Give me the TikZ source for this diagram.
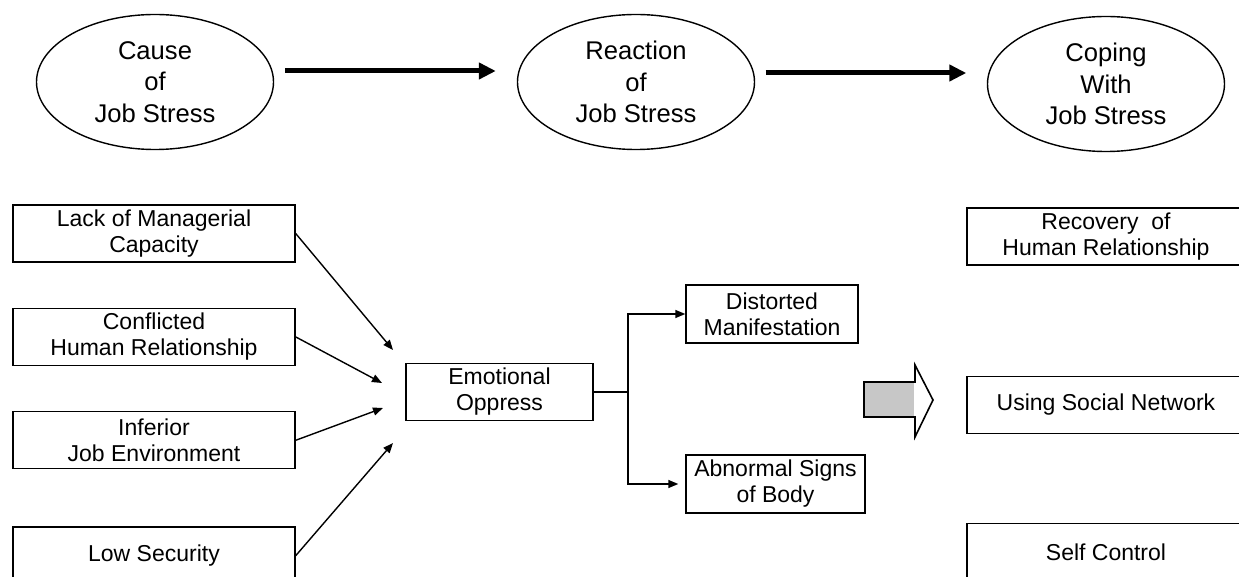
\documentclass[tikz,border=0pt]{standalone}
\usepackage{fontspec}
\setmainfont{Liberation Sans}
\usetikzlibrary{positioning,arrows.meta,shapes.geometric}

\begin{document}
\begin{tikzpicture}[
      x=0.5pt, y=-0.5pt,
      node distance=22.5pt and 8mm,
      stage/.style={draw, ellipse, line width=0.7pt, inner sep=0pt, minimum width=118.5pt, minimum height=67.5pt, align=center, font=\fontsize{12.8}{15.8}\selectfont},
      box/.style={draw, line width=0.7pt, align=center, inner sep=0pt, minimum height=28.5pt, font=\fontsize{11.5}{13}\selectfont},
      flow/.style={-{Triangle[length=8.5pt,width=8pt]}, line width=2.5pt},
      line/.style={-{Triangle[length=5pt,width=4pt]}, line width=0.7pt}
    ]
    \useasboundingbox (0,0) rectangle (1239,577);
    \clip (0,0) rectangle (1239,577);

    % three stages
    \node[stage] (cause) at (155,82) {Cause\\of\\Job Stress};
    \node[stage] (react) at (636,82) {Reaction\\of\\Job Stress};
    \node[stage] (cope) at (1106,84) {Coping\\With\\Job Stress};

    \draw[flow, shorten <=5.5pt, shorten >=10.5pt] ([yshift=5.5pt]cause.east) -- ([yshift=5.5pt]react.west);
    \draw[flow, shorten <=5.25pt, shorten >=10.25pt] ([yshift=4.5pt]react.east) -- ([yshift=5.5pt]cope.west);

    % causes
    \node[box, minimum width=141pt] (lack) at (154,233.5) {Lack of Managerial\\Capacity};
    \node[box, minimum width=141pt, below=of lack] (confl) {Conflicted\\Human Relationship};
    \node[box, minimum width=141pt, below=of confl] (infer) {Inferior\\Job Environment};
    \node[box, minimum width=141pt, below=28.5pt of infer] (lowsec) {Low Security};

    % reaction
    \node[box, minimum width=93.5pt] (emo) at (499.5,392) {Emotional\\Oppress};
    \node[box, minimum width=86pt, minimum height=29pt] (dist) at (772,314) {Distorted\\Manifestation};
    \node[box, minimum width=89.5pt, minimum height=29pt] (abn) at (775.5,484) {Abnormal Signs\\of Body};

    \coordinate (t1) at (393,350);
    \coordinate (t2) at (382,383);
    \coordinate (t3) at (383,408);
    \coordinate (t4) at (393,443);
    \coordinate (split) at (628,392);

    \draw[line] (lack.east) -- (t1);
    \draw[line] (confl.east) -- (t2);
    \draw[line] (infer.east) -- (t3);
    \draw[line] (lowsec.east) -- (t4);

    \draw[line width=0.7pt] (emo.east) -- (split);
    \draw[line] (split) |- (dist.west);
    \draw[line, shorten >=3.5pt] (split) |- (abn.west);

    % block arrow
    \draw[line width=0.8pt, fill=white] (864,382) -- (915,382) -- (915,365) -- (933,400) -- (915,437) -- (915,417) -- (864,417) -- cycle;
    \fill[black!22] (865,383) rectangle (914,416);
    \draw[line width=1.2pt] (864,382) -- (864,417) -- (915,417);

    % coping
    \node[box, minimum width=139pt] (recov) at (1106,236.5) {Recovery\ \ of\\Human Relationship};
    \node[box, minimum width=139pt] (social) at (1106,405) {Using Social Network};
    \node[box, minimum width=139pt] (selfc) at (1106,552) {Self Control};
  \end{tikzpicture}
\end{document}
